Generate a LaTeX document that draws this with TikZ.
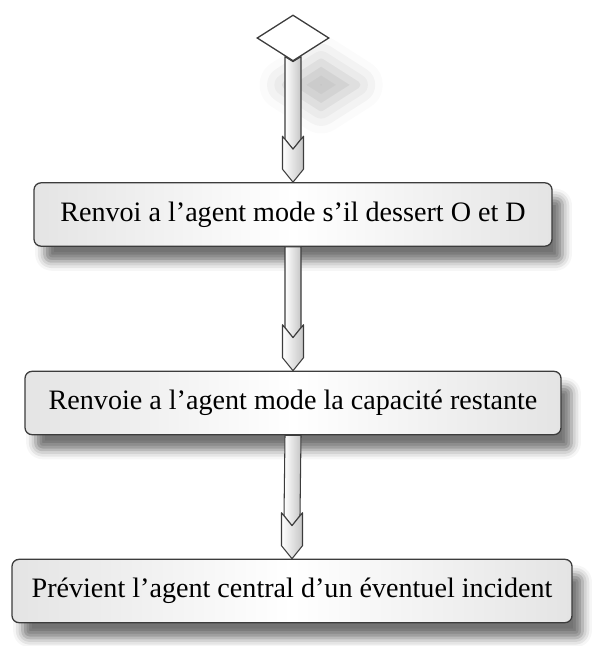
\documentclass[tikz,border=0pt]{standalone}
\usepackage{fontspec}
\setmainfont{Liberation Serif}
\newfontfamily\texteserif{Liberation Serif}
\usetikzlibrary{shapes.geometric,calc,shadows.blur}
\definecolor{trait}{RGB}{60,60,60}
\definecolor{biseau}{RGB}{228,228,228}

\begin{document}
\begin{tikzpicture}[x=0.03cm,y=-0.03cm,
    etape/.style={rectangle,draw=trait,rounded corners=6pt,minimum height=1.9cm,line width=1.1pt,
      left color=biseau,right color=biseau,middle color=white,font=\texteserif\fontsize{24}{28}\selectfont,
      blur shadow={shadow xshift=9pt,shadow yshift=-13pt,shadow blur radius=8pt,shadow opacity=55}},
    losange/.style={diamond,draw=trait,line width=1.1pt,fill=white,inner sep=0pt,minimum width=2.16cm,minimum height=1.38cm,
      blur shadow={shadow xshift=24pt,shadow yshift=-40pt,shadow blur radius=22pt,shadow opacity=25}},
    tige/.style={draw=trait,line width=0.9pt,left color=white,right color=gray!45,line join=round},
]
\useasboundingbox (0,0) rectangle (593,646);
\node[losange] (depart) at (293,38) {};
\node[etape,minimum width=15.54cm] (e1) at (293,214.5) {Renvoi a l’agent mode s’il dessert O et D};
\node[etape,minimum width=16.08cm] (e2) at (293,403) {Renvoie a l’agent mode la capacité restante};
\node[etape,minimum width=16.8cm] (e3) at (292,591) {Prévient l’agent central d’un éventuel incident};

\foreach \src/\dst/\off in {depart/e1/5,e1/e2/0,e2/e3/0}{
  % tige
  \shade[tige] ($(\src.south)+(-8,-\off)$) -- (\src.south) -- ($(\src.south)+(8,-\off)$)
    -- ($(\dst.north)+(8,-43)$) -- ($(\dst.north)+(0,-33)$) -- ($(\dst.north)+(-8,-43)$) -- cycle;
  % pointe
  \shade[tige] ($(\dst.north)+(-10.5,-46)$) -- ($(\dst.north)+(0,-33)$) -- ($(\dst.north)+(10.5,-46)$)
    -- ($(\dst.north)+(10.5,-13)$) -- (\dst.north) -- ($(\dst.north)+(-10.5,-13)$) -- cycle;
}
\end{tikzpicture}
\end{document}
